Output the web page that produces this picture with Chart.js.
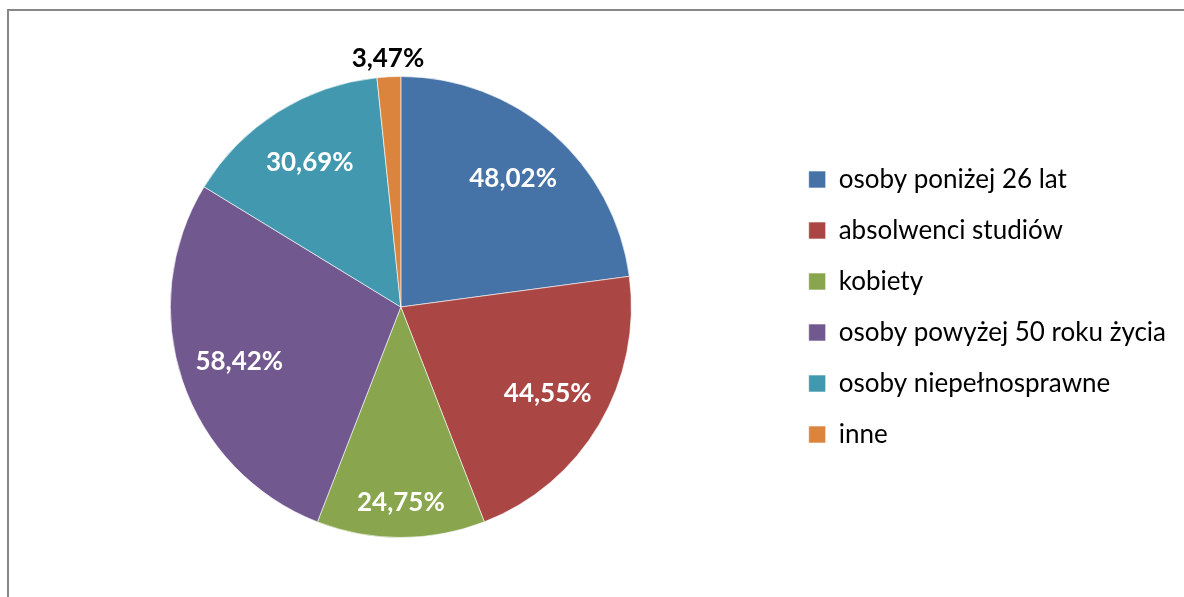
<!DOCTYPE html>
<html>
<head>
<meta charset="utf-8">
<script src="https://cdn.jsdelivr.net/npm/chart.js@4.4.0/dist/chart.umd.min.js"></script>
<style>
    body { margin: 0; background: #fff; }
    #ramka {
        position: absolute; left: 7px; top: 9px;
        width: 1200px; height: 620px;
        border-top: 2px solid #878787; border-left: 2px solid #878787;
    }
    #wykres { position: absolute; left: 0; top: 0; }
</style>
</head>
<body>
<div id="ramka"></div>
<canvas id="wykres" width="1184" height="597"></canvas>
<script>
// grupy bezrobotnych i ich udział (%)
const kategorie = [
    'osoby poniżej 26 lat',
    'absolwenci studiów',
    'kobiety',
    'osoby powyżej 50 roku życia',
    'osoby niepełnosprawne',
    'inne'
];
const udzialy = [48.02, 44.55, 24.75, 58.42, 30.69, 3.47];
const kolory = ['#4572A7', '#AA4643', '#89A54E', '#71588F', '#4198AF', '#DB843D'];

const czcionka = 'Lato, "Open Sans", sans-serif';

function formatProcent(v) {
    return v.toFixed(2).replace('.', ',') + '%';
}

// etykiety z wartościami na wycinkach
const etykietyWycinkow = {
    id: 'etykietyWycinkow',
    afterDatasetsDraw(chart) {
        const ctx = chart.ctx;
        const meta = chart.getDatasetMeta(0);
        const dane = chart.data.datasets[0].data;
        const suma = dane.reduce((a, b) => a + b, 0);
        ctx.save();
        ctx.font = 'bold 26px ' + czcionka;
        ctx.textAlign = 'center';
        ctx.textBaseline = 'middle';
        meta.data.forEach((arc, i) => {
            const p = arc.getProps(['x', 'y', 'startAngle', 'endAngle', 'outerRadius']);
            const kat = (p.startAngle + p.endAngle) / 2;
            const udzial = dane[i] / suma;
            let r, kolor;
            if (udzial < 0.05) {
                // mały wycinek - etykieta na zewnątrz
                r = p.outerRadius + 18;
                kolor = '#000';
            } else {
                // wąskie wycinki - etykieta bliżej krawędzi
                r = p.outerRadius * (udzial < 0.13 ? 0.85 : 0.74);
                kolor = '#fff';
            }
            ctx.fillStyle = kolor;
            ctx.fillText(formatProcent(dane[i]), p.x + Math.cos(kat) * r, p.y + Math.sin(kat) * r);
        });
        ctx.restore();
    }
};

new Chart(document.getElementById('wykres'), {
    type: 'pie',
    data: {
        labels: kategorie,
        datasets: [{
            data: udzialy,
            backgroundColor: kolory,
            borderColor: 'rgba(255,255,255,0.6)',
            borderWidth: 1
        }]
    },
    options: {
        responsive: false,
        animation: false,
        layout: {
            padding: { left: 18, right: 8, top: 76, bottom: 59 }
        },
        plugins: {
            legend: {
                position: 'right',
                align: 'center',
                labels: {
                    color: '#000',
                    font: { family: czcionka, size: 26 },
                    boxWidth: 17,
                    boxHeight: 17,
                    padding: 25
                }
            },
            tooltip: { enabled: false }
        }
    },
    plugins: [etykietyWycinkow]
});
</script>
</body>
</html>
